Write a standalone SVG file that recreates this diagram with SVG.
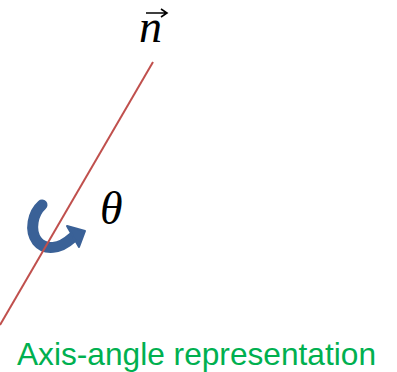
<svg xmlns="http://www.w3.org/2000/svg" width="397" height="372" viewBox="0 0 397 372">
<style>
.math{font-family:"Liberation Serif","DejaVu Serif",serif;font-style:italic;fill:#000}
.cap{font-family:"Liberation Sans",Arial,sans-serif;font-size:30.5px;fill:#00b050}
</style>
<rect width="397" height="372" fill="#fff"/>
<g id="rotation">
<path d="M42,205 C33,213 29,230 37,241 C45,251 60,249 72,238" fill="none" stroke="#3a6197" stroke-width="11" stroke-linecap="round"/>
<polygon points="67,226 85,231 79,247" fill="#3a6197" stroke="#3a6197" stroke-width="2" stroke-linejoin="round"/>
</g>
<g id="connectors">
<line x1="153" y1="62" x2="0" y2="325" stroke="#c0504d" stroke-width="2"/>
</g>
<g id="n-label">
<text class="math" x="139" y="42" font-size="46">n</text>
<path d="M146,13 H166 M161,9 L167,13 L161,17" fill="none" stroke="#000" stroke-width="1.6"/>
</g>
<g id="theta-label">
<text class="math" x="100" y="224" font-size="46">θ</text>
</g>
<g id="caption">
<text class="cap" x="17" y="365" textLength="359" lengthAdjust="spacingAndGlyphs">Axis-angle representation</text>
</g>
</svg>
